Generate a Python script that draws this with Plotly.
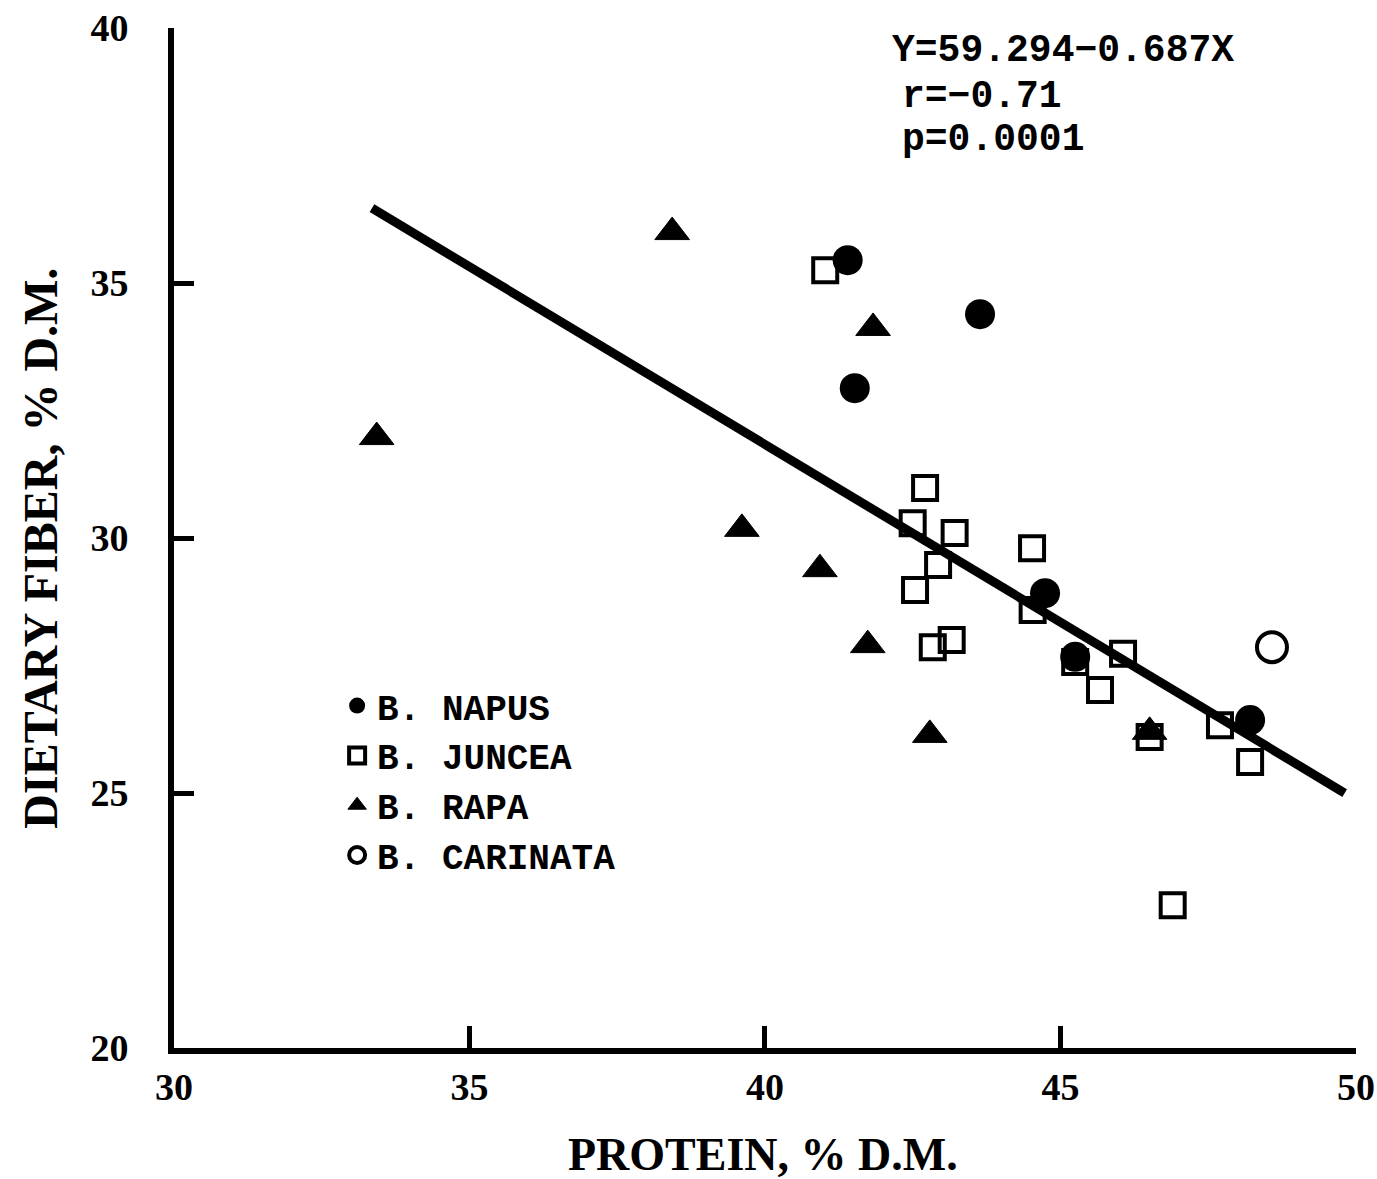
import plotly.graph_objects as go

# ---- data ----
napus_x = [41.40, 43.64, 41.52, 44.74, 45.25, 48.21]
napus_y = [35.45, 34.39, 32.94, 28.92, 27.67, 26.43]

juncea_x = [41.02, 42.71, 42.50, 43.21, 42.93, 42.54, 44.52, 44.53, 42.84, 43.16,
            45.25, 46.06, 45.67, 46.51, 47.70, 48.21, 46.90]
juncea_y = [35.25, 30.98, 30.29, 30.10, 29.47, 28.98, 29.80, 28.59, 27.86, 28.00,
            27.57, 27.73, 27.02, 26.10, 26.33, 25.61, 22.80]

rapa_x = [38.43, 33.43, 41.83, 39.61, 40.93, 41.74, 42.79, 46.51]
rapa_y = [36.00, 31.98, 34.12, 30.18, 29.39, 27.90, 26.14, 26.20]

carinata_x = [48.58]
carinata_y = [27.86]

fit_x = [33.35, 49.81]
fit_y = [36.47, 25.00]

x_ticks = [30, 35, 40, 45, 50]
y_ticks = [20, 25, 30, 35, 40]

eq_lines = ["Y=59.294\u22120.687X", "r=\u22120.71", "p=0.0001"]
x_title = "PROTEIN, % D.M."
y_title = "DIETARY FIBER, % D.M."

MONO = "Liberation Mono, Courier New, monospace"
SERIF = "Liberation Serif, Times New Roman, serif"

fig = go.Figure()

fig.add_trace(go.Scatter(
    x=napus_x, y=napus_y, mode="markers", name="B. NAPUS",
    marker=dict(symbol="circle", size=30, color="black", line=dict(width=0))))
fig.add_trace(go.Scatter(
    x=juncea_x, y=juncea_y, mode="markers", name="B. JUNCEA",
    marker=dict(symbol="square-open", size=24, color="black", line=dict(width=4, color="black"))))
fig.add_trace(go.Scatter(
    x=rapa_x, y=rapa_y, mode="markers", name="B. RAPA",
    marker=dict(symbol="triangle-up", size=30, color="black", line=dict(width=1, color="black"))))
fig.add_trace(go.Scatter(
    x=carinata_x, y=carinata_y, mode="markers", name="B. CARINATA",
    marker=dict(symbol="circle-open", size=30, color="black", line=dict(width=4, color="black"))))
fig.add_trace(go.Scatter(
    x=fit_x, y=fit_y, mode="lines", showlegend=False,
    line=dict(color="black", width=9)))

W, H = 1377, 1179
L, R, T, B = 174, 21, 28, 131

fig.update_layout(
    width=W, height=H,
    margin=dict(l=L, r=R, t=T, b=B, pad=0, autoexpand=False),
    paper_bgcolor="white", plot_bgcolor="white",
    showlegend=True,
    legend=dict(
        x=0.138, y=0.365, xanchor="left", yanchor="top",
        bgcolor="rgba(0,0,0,0)",
        font=dict(family=MONO, size=36, color="black", weight="bold"),
        itemsizing="trace", tracegroupgap=0,
    ),
    xaxis=dict(
        range=[30, 50.002], tickvals=x_ticks, ticktext=[str(v) for v in x_ticks],
        showgrid=False, zeroline=False, automargin=False,
        showline=True, linecolor="black", linewidth=6, mirror=False,
        ticks="inside", ticklen=22, tickwidth=5, tickcolor="black",
        tickfont=dict(family=SERIF, size=38, color="black", weight="bold"),
        ticklabelstandoff=0,
    ),
    yaxis=dict(
        range=[20, 40.002], tickvals=y_ticks, ticktext=[str(v) for v in y_ticks],
        showgrid=False, zeroline=False, automargin=False,
        showline=True, linecolor="black", linewidth=6, mirror=False,
        ticks="inside", ticklen=20, tickwidth=5, tickcolor="black",
        tickfont=dict(family=SERIF, size=38, color="black", weight="bold"),
        ticklabelstandoff=32,
    ),
)

annots = [
    dict(text=x_title, x=0.498, y=-0.104, textangle=0,
         font=dict(family=SERIF, size=46, color="black", weight="bold")),
    dict(text=y_title, x=-0.113, y=0.490, textangle=-90,
         font=dict(family=SERIF, size=48, color="black", weight="bold")),
]
for a in annots:
    a.update(xref="paper", yref="paper", xanchor="center", yanchor="middle", showarrow=False)
    fig.add_annotation(**a)

eq_pos = [(0.606, 0.978), (0.614, 0.933), (0.614, 0.891)]
for txt, (px, py) in zip(eq_lines, eq_pos):
    fig.add_annotation(text=txt, x=px, y=py, xref="paper", yref="paper",
                       xanchor="left", yanchor="middle", showarrow=False,
                       font=dict(family=MONO, size=38, color="black", weight="bold"))

fig.write_html("out.html")
